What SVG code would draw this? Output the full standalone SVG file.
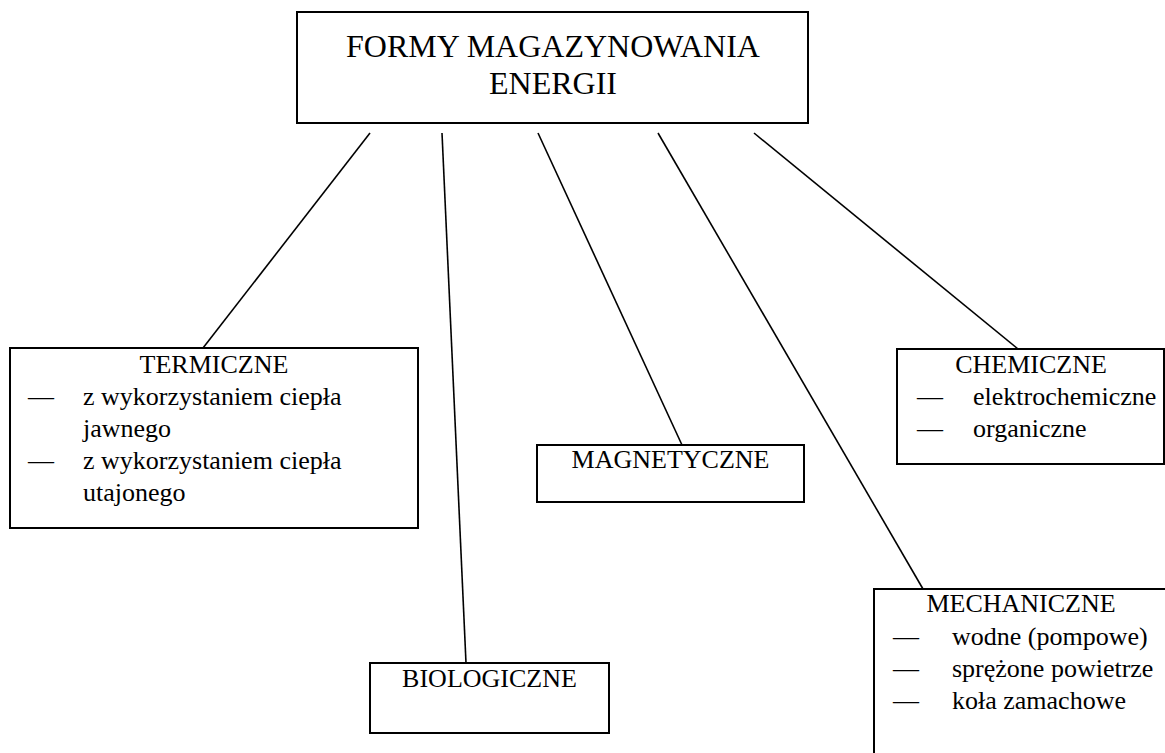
<svg xmlns="http://www.w3.org/2000/svg" width="1165" height="753" viewBox="0 0 1165 753">
<style>
.box{fill:#fff;stroke:#000;stroke-width:2}
.conn line{stroke:#000;stroke-width:1.6}
text{font-family:"Liberation Serif","Times New Roman",serif;fill:#000}
.t{font-size:32px;text-anchor:middle}
.h{font-size:26px;text-anchor:middle}
.b{font-size:26px}
</style>
<rect width="1165" height="753" fill="#fff"/>
<g class="conn" id="connectors">
<line x1="370" y1="133" x2="203" y2="348"/>
<line x1="442" y1="133" x2="466" y2="663"/>
<line x1="538" y1="133" x2="682" y2="445"/>
<line x1="658" y1="133" x2="923" y2="589"/>
<line x1="754" y1="133" x2="1018" y2="349"/>
</g>
<g id="root">
<rect class="box" x="297" y="12" width="511" height="111"/>
<text class="t" x="553" y="57">FORMY MAGAZYNOWANIA</text>
<text class="t" x="553" y="94">ENERGII</text>
</g>
<g id="termiczne">
<rect class="box" x="10" y="348" width="408" height="180"/>
<text class="h" x="214" y="373">TERMICZNE</text>
<text class="b" x="28" y="405">—</text>
<text class="b" x="83" y="405">z wykorzystaniem ciepła</text>
<text class="b" x="83" y="437">jawnego</text>
<text class="b" x="28" y="469">—</text>
<text class="b" x="83" y="469">z wykorzystaniem ciepła</text>
<text class="b" x="83" y="501">utajonego</text>
</g>
<g id="biologiczne">
<rect class="box" x="370" y="663" width="239" height="70"/>
<text class="h" x="489.5" y="687">BIOLOGICZNE</text>
</g>
<g id="magnetyczne">
<rect class="box" x="537" y="445" width="267" height="57"/>
<text class="h" x="670.5" y="468">MAGNETYCZNE</text>
</g>
<g id="mechaniczne">
<rect class="box" x="874" y="589" width="294" height="180"/>
<text class="h" x="1021" y="612">MECHANICZNE</text>
<text class="b" x="893" y="645">—</text>
<text class="b" x="952" y="645">wodne (pompowe)</text>
<text class="b" x="893" y="677">—</text>
<text class="b" x="952" y="677">sprężone powietrze</text>
<text class="b" x="893" y="709">—</text>
<text class="b" x="952" y="709">koła zamachowe</text>
</g>
<g id="chemiczne">
<rect class="box" x="897" y="349" width="267" height="115"/>
<text class="h" x="1031" y="373">CHEMICZNE</text>
<text class="b" x="917" y="405">—</text>
<text class="b" x="973" y="405">elektrochemiczne</text>
<text class="b" x="917" y="437">—</text>
<text class="b" x="973" y="437">organiczne</text>
</g>
</svg>
